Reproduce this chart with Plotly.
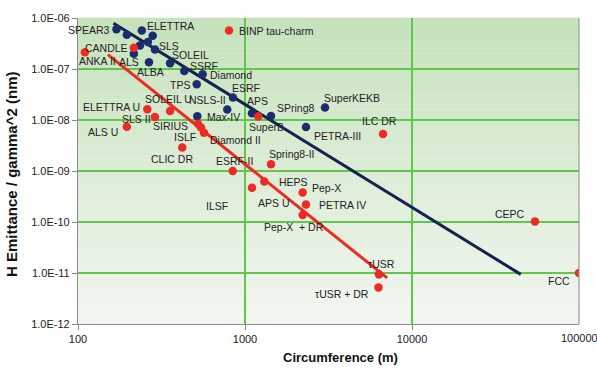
import numpy as np
import plotly.graph_objects as go

# ---------------- data ----------------
blue_names = ["SPEAR3", "", "ELETTRA", "", "", "SLS", "", "ALS", "ALBA", "SOLEIL",
              "SSRF", "Diamond", "TPS", "ESRF", "NSLS-II", "Max-IV", "APS", "SPring8",
              "SuperKEKB", "PETRA-III"]
blue_circ = [170, 196, 241, 280, 235, 262, 289, 216, 266, 356,
             433, 558, 514, 847, 783, 518, 1101, 1431, 3013, 2319]
blue_emit = [6.0e-7, 4.7e-7, 5.7e-7, 4.5e-7, 2.9e-7, 3.4e-7, 2.4e-7, 2.0e-7, 1.36e-7, 1.3e-7,
             9.1e-8, 7.9e-8, 5.0e-8, 2.75e-8, 1.6e-8, 1.19e-8, 1.36e-8, 1.2e-8, 1.75e-8, 7.3e-9]

red_names = ["ANKA II", "CANDLE", "BINP tau-charm", "ELETTRA U", "SOLEIL U", "SLS II",
             "ALS U", "SIRIUS", "ISLF", "Diamond II", "SuperB", "ILC DR", "CLIC DR",
             "ESRF-II", "Spring8-II", "APS U", "HEPS", "Pep-X", "PETRA IV", "Pep-X  + DR",
             "τUSR", "τUSR + DR", "CEPC", "FCC"]
red_circ = [110, 216, 802, 260, 356, 289, 196, 523, 545, 568, 1201, 6703, 421,
            844, 1431, 1101, 1305, 2215, 2319, 2215, 6343, 6300, 54500, 100000]
red_emit = [2.13e-7, 2.6e-7, 5.7e-7, 1.63e-8, 1.5e-8, 1.14e-8, 7.4e-9, 8.4e-9, 7.1e-9,
            5.65e-9, 1.17e-8, 5.3e-9, 2.9e-9, 1.0e-9, 1.35e-9, 4.7e-10, 6.2e-10, 3.8e-10,
            2.2e-10, 1.37e-10, 9.4e-12, 5.2e-12, 1.02e-10, 1.0e-11]

# trend lines (fit end points)
blue_fit_circ = [163, 44800]
blue_fit_emit = [7.9e-7, 9.4e-12]
red_fit_circ = [151, 7100]
red_fit_emit = [1.92e-7, 8.0e-12]

# extra free-standing label
extra_label = "ILSF"
extra_label_circ = 684
extra_label_emit = 2.08e-10

x_tickvals = [100, 1000, 10000, 100000]
x_ticktext = ["100", "1000", "10000", "100000"]
y_tickvals = [1e-12, 1e-11, 1e-10, 1e-9, 1e-8, 1e-7, 1e-6]
y_ticktext = ["1.0E-12", "1.0E-11", "1.0E-10", "1.0E-09", "1.0E-08", "1.0E-07", "1.0E-06"]

# ---------------- label placement (style) ----------------
# name: (xanchor, xshift, yshift)
label_pos = {
    "SPEAR3": ("right", -4, -1), "ELETTRA": ("left", 3, 4), "SLS": ("left", 9, -4),
    "ALS": ("center", -5, -8), "ALBA": ("center", 2, -10), "SOLEIL": ("left", 0, 8),
    "SSRF": ("left", 4, 5), "Diamond": ("left", 5, -1), "TPS": ("right", -5, -1),
    "ESRF": ("left", -3, 10), "NSLS-II": ("right", 1, 10), "Max-IV": ("left", 8, -1),
    "APS": ("left", -7, 12), "SPring8": ("left", 4, 8), "SuperKEKB": ("left", -3, 10),
    "PETRA-III": ("left", 6, -9),
    "ANKA II": ("left", -8, -9), "CANDLE": ("right", -4, 0), "BINP tau-charm": ("left", 8, -1),
    "ELETTRA U": ("right", -5, 2), "SOLEIL U": ("center", -2, 12), "SLS II": ("right", -2, -2),
    "ALS U": ("right", -7, -5), "SIRIUS": ("right", -8, -2), "ISLF": ("right", -3, -9),
    "Diamond II": ("left", 4, -7), "SuperB": ("left", -11, -10), "ILC DR": ("center", -3, 13),
    "CLIC DR": ("center", -10, -12), "ESRF-II": ("center", 2, 10), "Spring8-II": ("left", -4, 10),
    "APS U": ("left", 4, -15), "HEPS": ("left", 13, 0), "Pep-X": ("left", 7, 4),
    "PETRA IV": ("left", 11, 0), "Pep-X  + DR": ("center", -9, -12), "τUSR": ("center", 3, 10),
    "τUSR + DR": ("right", -7, -7), "CEPC": ("right", -8, 8), "FCC": ("right", -7, -8),
}

FONT = "Arial, Liberation Sans, sans-serif"
BLUE_DOT = "#1d2c6e"
BLUE_LINE = "#14224f"
RED = "#ee2a24"
GRID = "#62c64c"
TEXT = "#222222"

fig = go.Figure()
fig.add_trace(go.Scatter(x=blue_fit_circ, y=blue_fit_emit, mode="lines",
                         line=dict(color=BLUE_LINE, width=3), hoverinfo="skip"))
fig.add_trace(go.Scatter(x=red_fit_circ, y=red_fit_emit, mode="lines",
                         line=dict(color=RED, width=3), hoverinfo="skip"))
fig.add_trace(go.Scatter(x=blue_circ, y=blue_emit, mode="markers", text=blue_names,
                         marker=dict(color=BLUE_DOT, size=8.5, line=dict(width=0))))
fig.add_trace(go.Scatter(x=red_circ, y=red_emit, mode="markers", text=red_names,
                         marker=dict(color=RED, size=8.5, line=dict(width=0))))

annotations = []
for names, cs, es in ((blue_names, blue_circ, blue_emit), (red_names, red_circ, red_emit)):
    for n, c, e in zip(names, cs, es):
        if not n:
            continue
        xa, xs, ys = label_pos.get(n, ("left", 5, 0))
        annotations.append(dict(x=np.log10(c), y=np.log10(e), xref="x", yref="y",
                                text=n, showarrow=False, xanchor=xa, yanchor="middle",
                                xshift=xs, yshift=ys,
                                font=dict(family=FONT, size=10.5, color=TEXT)))
annotations.append(dict(x=np.log10(extra_label_circ), y=np.log10(extra_label_emit),
                        xref="x", yref="y", text=extra_label, showarrow=False,
                        font=dict(family=FONT, size=10.5, color=TEXT)))
# last x tick label (would be dropped by plotly at the page edge)
annotations.append(dict(x=np.log10(x_tickvals[-1]), y=0, xref="x", yref="paper",
                        yshift=-14, text=x_ticktext[-1], showarrow=False,
                        xanchor="center", yanchor="middle",
                        font=dict(family=FONT, size=11, color=TEXT)))
# axis titles
annotations.append(dict(x=0, y=0.5, xref="paper", yref="paper", xshift=-67, yshift=-4,
                        text="<b>H Emittance / gamma^2 (nm)</b>", textangle=-90,
                        showarrow=False, xanchor="center", yanchor="middle",
                        font=dict(family=FONT, size=15, color="#111111")))
annotations.append(dict(x=0.523, y=0, xref="paper", yref="paper", yshift=-33,
                        text="<b>Circumference (m)</b>", showarrow=False,
                        xanchor="center", yanchor="middle",
                        font=dict(family=FONT, size=13, color="#111111")))

# gradient background bands
shapes = []
top = np.array([198, 227, 188])
mid = np.array([221, 237, 215])
bot = np.array([243, 247, 241])
nb = 60
for i in range(nb):
    t = (i + 0.5) / nb  # 0 top -> 1 bottom
    if t < 0.5:
        col = top + (mid - top) * (t / 0.5)
    else:
        col = mid + (bot - mid) * ((t - 0.5) / 0.5)
    col = col.astype(int)
    shapes.append(dict(type="rect", xref="paper", yref="paper", x0=0, x1=1,
                       y0=1 - (i + 1) / nb, y1=1 - i / nb + 0.001, layer="below",
                       line=dict(width=0), fillcolor=f"rgb({col[0]},{col[1]},{col[2]})"))
shapes.append(dict(type="line", xref="paper", yref="paper", x0=1, x1=1, y0=0, y1=1,
                   line=dict(color="#9a9a9a", width=1.2)))

fig.update_layout(
    width=597, height=371,
    margin=dict(l=78, r=18, t=13, b=47),
    paper_bgcolor="white", plot_bgcolor="rgba(0,0,0,0)",
    showlegend=False,
    font=dict(family=FONT, color=TEXT),
    annotations=annotations, shapes=shapes,
    xaxis=dict(type="log", range=[2, 5], tickvals=x_tickvals[:-1], ticktext=x_ticktext[:-1],
               showgrid=True, gridcolor=GRID, gridwidth=1.5, zeroline=False,
               showline=True, linecolor="#8a8a8a", linewidth=1.2,
               ticks="outside", ticklen=5, tickcolor="#8a8a8a",
               tickfont=dict(family=FONT, size=11, color=TEXT)),
    yaxis=dict(type="log", range=[-12, -6], tickvals=y_tickvals, ticktext=y_ticktext,
               showgrid=True, gridcolor=GRID, gridwidth=1.5, zeroline=False,
               showline=True, linecolor="#8a8a8a", linewidth=1.2,
               ticks="outside", ticklen=5, tickcolor="#8a8a8a",
               tickfont=dict(family=FONT, size=11, color=TEXT)),
)

fig.write_html("out.html", config={"displayModeBar": False},
               post_script="document.body.style.margin='0px';")
